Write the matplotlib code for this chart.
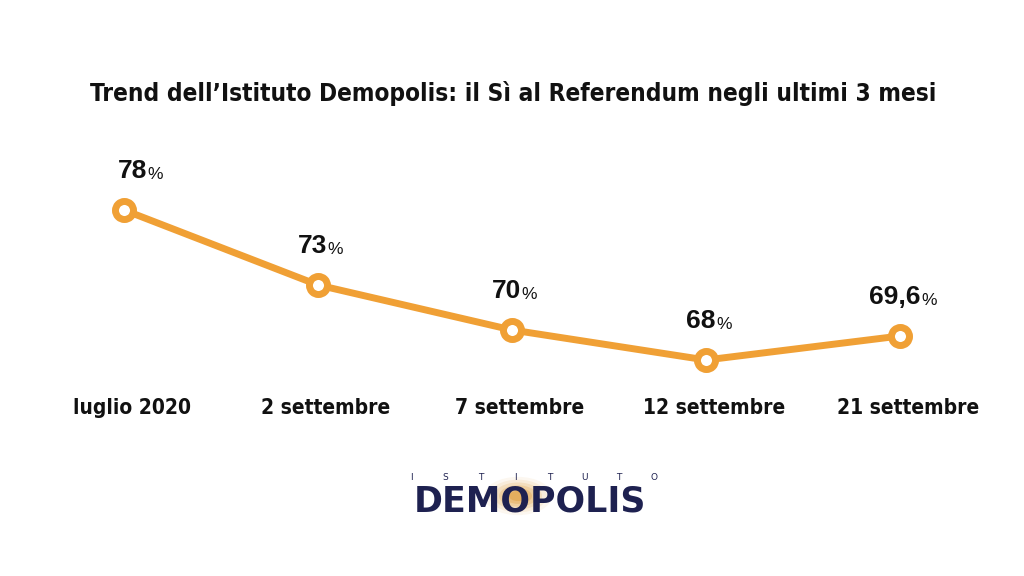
import matplotlib.pyplot as plt
import numpy as np

date = ['luglio 2020', '2 settembre', '7 settembre', '12 settembre', '21 settembre']
si = [78, 73, 70, 68, 69.6]
etichette = ['78', '73', '70', '68', '69,6']

arancio = '#F0A035'
blu = '#1E2150'


def main():
    fig = plt.figure(figsize=(10.24, 5.76), dpi=100)
    fig.patch.set_facecolor('white')
    ax = fig.add_axes([0, 0, 1, 1])
    ax.set_xlim(-0.639, 4.639)
    ax.set_ylim(53.6, 92)
    ax.axis('off')

    x = np.arange(len(date))
    ax.plot(x, si, color=arancio, lw=5, solid_capstyle='round', zorder=2)
    ax.plot(x, si, 'o', ms=13, mfc='white', mec=arancio, mew=5, zorder=3)

    for i, (v, t) in enumerate(zip(si, etichette)):
        dx = 6 if i == 0 else -4
        ann = ax.annotate(t, (i, v), xytext=(dx, 23), textcoords='offset points',
                          ha='center', va='baseline', fontsize=19, fontweight='bold',
                          family='Liberation Sans', color='#111111')
        ax.annotate('%', xy=(1, 0), xycoords=ann, xytext=(0.5, 0.5),
                    textcoords='offset points', ha='left', va='bottom',
                    fontsize=12.5, family='Liberation Sans', color='#111111')

    # etichette asse x
    for i, d in enumerate(date):
        fig.text((124 + 194 * i + 8) / 1024, 1 - 408 / 576, d, ha='center', va='center',
                 fontsize=15, fontweight='bold', family='DejaVu Sans',
                 fontstretch='condensed', color='#111111')

    fig.text(513 / 1024, 1 - 93 / 576,
             "Trend dell\u2019Istituto Demopolis: il Sì al Referendum negli ultimi 3 mesi",
             ha='center', va='center', fontsize=17.5, fontweight='bold',
             family='DejaVu Sans', fontstretch='condensed', color='#111111')

    # logo
    for r, a in [(34, 0.08), (29, 0.12), (24, 0.18), (19, 0.25), (14, 0.35), (9, 0.5)]:
        fig.patches.append(plt.Circle((518 / 1024, 1 - 496 / 576), r / 1024,
                                      transform=fig.transFigure, color='#E0A040',
                                      alpha=a, lw=0))
    for i, c in enumerate('ISTITUTO'):
        fig.text((411 + 34.7 * i) / 1024, 1 - 478 / 576, c, ha='center', va='center',
                 fontsize=6.5, family='DejaVu Sans', color=blu)
    fig.text(530 / 1024, 1 - 501 / 576, 'DEMOPOLIS', ha='center', va='center',
             fontsize=25, fontweight='heavy', family='DejaVu Sans', color=blu)

    fig.savefig('out.png', dpi=100)


if __name__ == '__main__':
    main()
